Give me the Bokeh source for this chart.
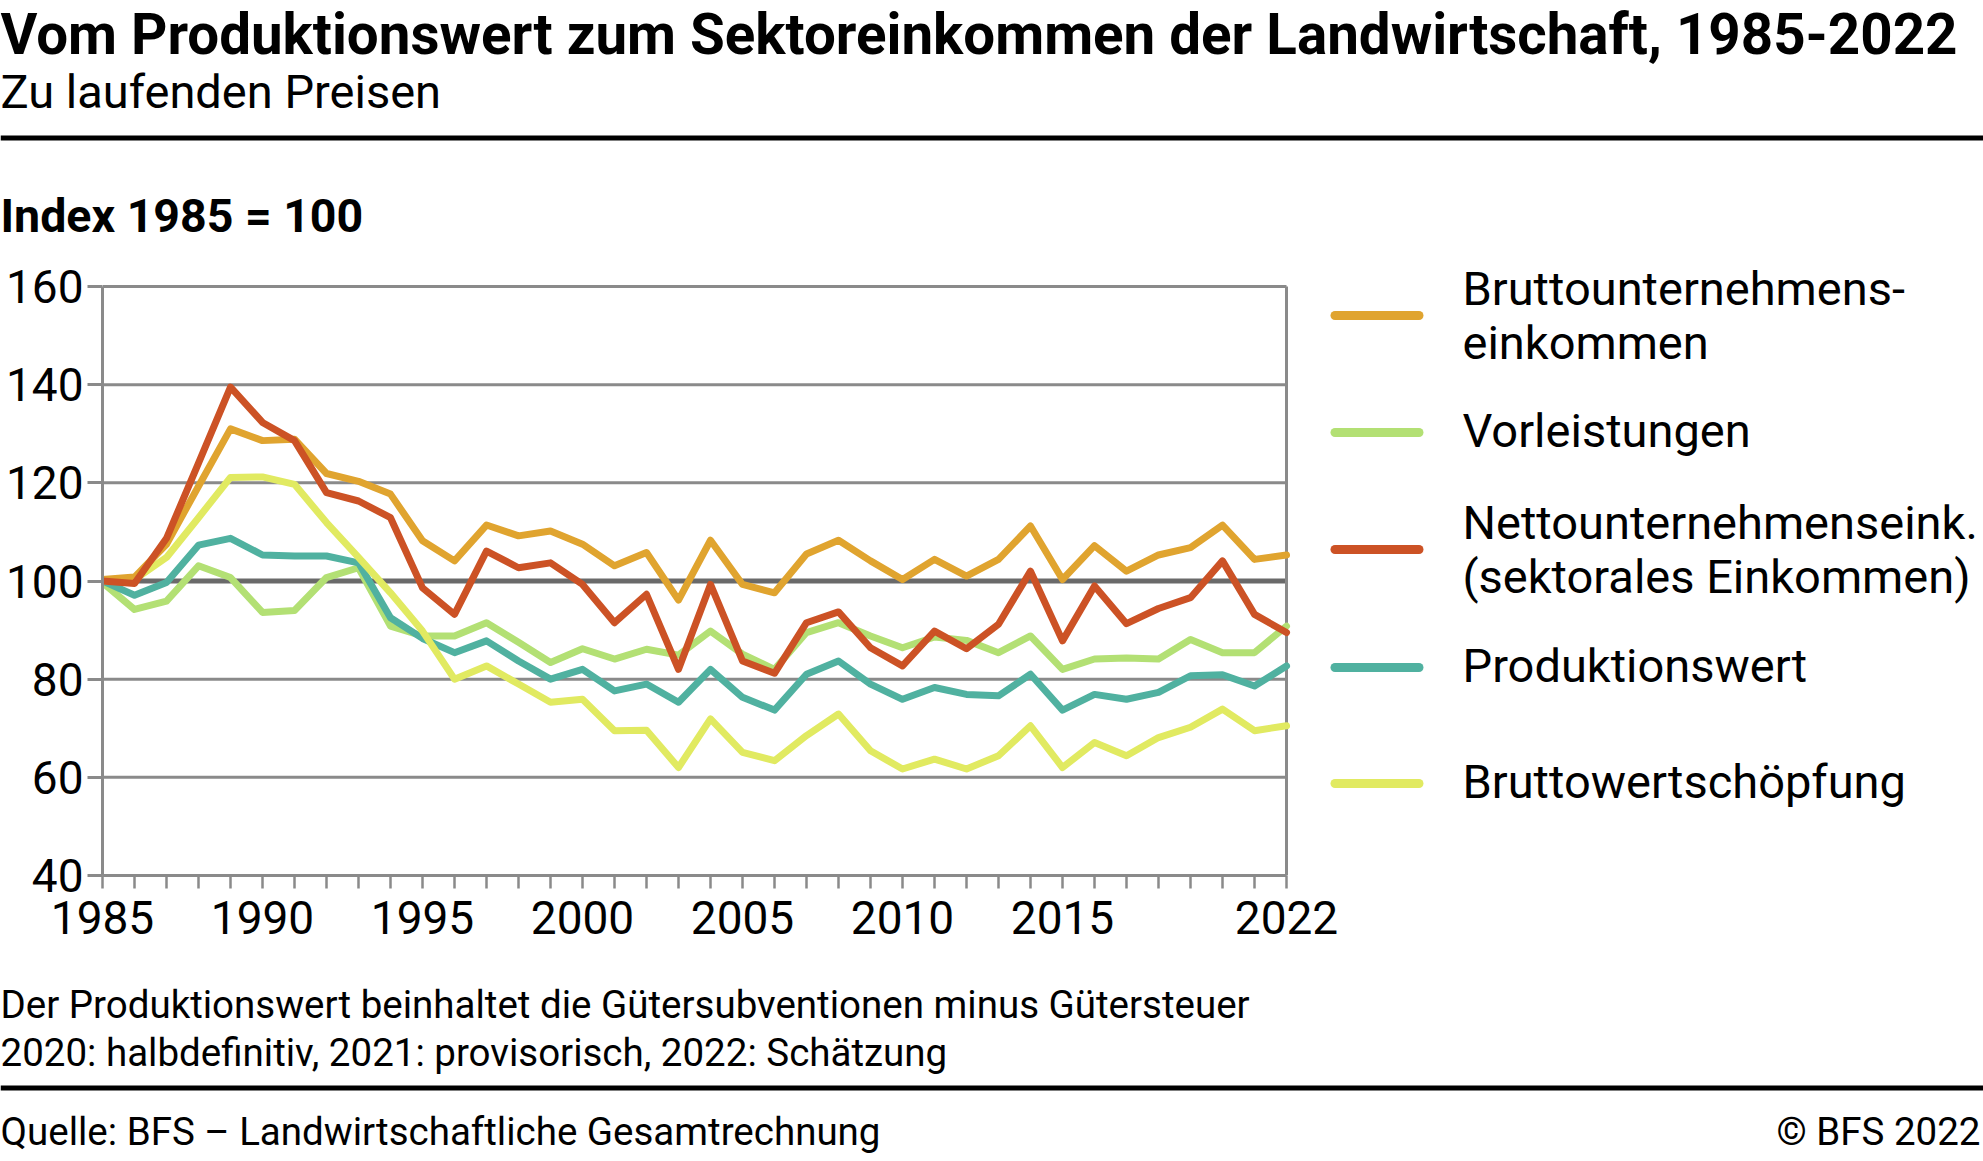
from bokeh.plotting import figure
from bokeh.models import FixedTicker, Range1d
from bokeh.layouts import column, row
from bokeh.core.properties import value
from bokeh.embed import file_html
from bokeh.resources import INLINE

years = list(range(1985, 2023))

brutto_unt = [100.3, 100.8, 107.5, 119.3, 131.0, 128.6, 128.9, 121.9, 120.3, 117.7,
              108.2, 104.1, 111.4, 109.2, 110.2, 107.5, 103.1, 105.8, 96.1, 108.3,
              99.3, 97.6, 105.5, 108.3, 104.1, 100.3, 104.4, 101.0, 104.4, 111.2,
              100.3, 107.2, 102.0, 105.3, 106.8, 111.4, 104.4, 105.3]
vorleistungen = [99.7, 94.2, 95.9, 103.1, 100.7, 93.6, 94.0, 100.7, 102.7, 90.8,
                 88.8, 88.8, 91.5, 87.5, 83.4, 86.2, 84.1, 86.1, 84.9, 89.8,
                 85.1, 82.0, 89.5, 91.5, 88.8, 86.4, 88.6, 87.9, 85.4, 88.8,
                 82.0, 84.1, 84.3, 84.1, 88.1, 85.4, 85.4, 90.8]
netto_unt = [100.0, 99.5, 108.7, 124.0, 139.5, 132.3, 128.6, 118.0, 116.3, 112.9,
             98.6, 93.2, 106.1, 102.7, 103.7, 99.3, 91.5, 97.3, 82.0, 99.3,
             83.7, 81.2, 91.5, 93.7, 86.4, 82.7, 89.8, 86.2, 91.2, 102.0,
             87.8, 99.0, 91.3, 94.4, 96.6, 104.1, 93.2, 89.5]
produktionswert = [100.0, 97.1, 99.7, 107.3, 108.7, 105.3, 105.1, 105.1, 103.7, 92.5,
                   88.3, 85.4, 87.8, 83.7, 80.0, 82.0, 77.6, 79.0, 75.3, 82.0,
                   76.3, 73.7, 81.0, 83.7, 79.0, 75.9, 78.3, 76.9, 76.6, 81.0,
                   73.7, 76.9, 75.9, 77.3, 80.7, 80.9, 78.6, 82.7]
bruttowert = [100.0, 100.3, 104.8, 112.9, 121.1, 121.2, 119.7, 111.9, 104.8, 97.6,
              89.8, 80.0, 82.7, 79.0, 75.3, 75.9, 69.5, 69.6, 62.0, 71.9,
              65.1, 63.4, 68.5, 72.9, 65.4, 61.7, 63.7, 61.7, 64.4, 70.5,
              62.0, 67.1, 64.4, 68.1, 70.2, 73.9, 69.5, 70.5]

y_ticks = [40, 60, 80, 100, 120, 140, 160]
x_label_years = [1985, 1990, 1995, 2000, 2005, 2010, 2015, 2022]
x_first, x_last = 1985, 2022
y_min, y_max = 40, 160
ref_line = 100

legend_lines = [["Bruttounternehmens-", "einkommen"],
                ["Vorleistungen"],
                ["Nettounternehmenseink.", "(sektorales Einkommen)"],
                ["Produktionswert"],
                ["Bruttowertschöpfung"]]

title_text = "Vom Produktionswert zum Sektoreinkommen der Landwirtschaft, 1985-2022"
subtitle_text = "Zu laufenden Preisen"
ylabel_text = "Index 1985 = 100"
note1 = "Der Produktionswert beinhaltet die Gütersubventionen minus Gütersteuer"
note2 = "2020: halbdefinitiv, 2021: provisorisch, 2022: Schätzung"
source_text = "Quelle: BFS \u2013 Landwirtschaftliche Gesamtrechnung"
copy_text = "\u00a9 BFS 2022"

C_ORANGE = "#E0A42F"
C_GREEN = "#B3E074"
C_RED = "#CC5225"
C_TEAL = "#50B1A0"
C_YELLOW = "#E1EA61"
GRID = "#8a8a8a"
FONT = "Roboto"
BASE = 0.36  # baseline correction (fraction of font size)

W = 1983
TOP_H = 250
MID_H = 710
BOT_H = 200
FL = 102            # frame left
PLOT_BOTTOM = 875   # page y of the x axis
PX_YEAR = 32.0
PX_UNIT = 589.0 / 120.0


def panel(w, h):
    f = figure(width=w, height=h, x_range=Range1d(0, w), y_range=Range1d(h, 0),
               min_border=0, output_backend="svg", toolbar_location=None,
               background_fill_color="white", border_fill_color="white")
    f.axis.visible = False
    f.grid.visible = False
    f.outline_line_color = None
    return f


def txt(f, x, y, t, size, bold=False, align="left", **kw):
    f.text(x=[x], y=[y - BASE * size], text=[t], text_font=value(FONT),
           text_font_size=value(f"{size}px"),
           text_font_style="bold" if bold else "normal", text_color="black",
           text_align=align, text_baseline="alphabetic", **kw)


# ---- top panel
top = panel(W, TOP_H)
txt(top, 0, 55, title_text, 56.5, bold=True)
txt(top, 0, 108, subtitle_text, 47)
top.quad(left=[0], right=[W], top=[135], bottom=[140], fill_color="black", line_color=None)
txt(top, 0, 232, ylabel_text, 46.5, bold=True)

# ---- middle: chart + legend in one frame
frame_w = W - FL
frame_h = PLOT_BOTTOM - TOP_H
p = figure(width=W, height=MID_H, frame_width=frame_w, frame_height=frame_h,
           min_border_left=FL, min_border_right=0, min_border_top=0,
           min_border_bottom=MID_H - frame_h,
           x_range=Range1d(x_first, x_first + frame_w / PX_YEAR),
           y_range=Range1d(y_min, y_min + frame_h / PX_UNIT),
           output_backend="svg", toolbar_location=None,
           background_fill_color="white", border_fill_color="white")
p.outline_line_color = None
p.grid.visible = False
p.extra_x_ranges = {"px": Range1d(FL, W)}
p.extra_y_ranges = {"py": Range1d(PLOT_BOTTOM, TOP_H)}

# grid lines, reference line and right border
p.segment(x0=[x_first] * len(y_ticks), x1=[x_last] * len(y_ticks), y0=y_ticks, y1=y_ticks,
          line_color=GRID, line_width=3, level="underlay")
p.segment(x0=[x_first], x1=[x_last], y0=[ref_line], y1=[ref_line],
          line_color="#6a6a6a", line_width=5, level="underlay")
p.segment(x0=[x_last], x1=[x_last], y0=[y_min], y1=[y_max],
          line_color=GRID, line_width=3, level="underlay")

p.xaxis.bounds = (x_first, x_last)
p.xaxis.ticker = FixedTicker(ticks=years)
p.xaxis.major_label_overrides = {y: (str(y) if y in x_label_years else "") for y in years}
p.xaxis.axis_line_color = GRID
p.xaxis.axis_line_width = 3
p.xaxis.major_tick_line_color = GRID
p.xaxis.major_tick_line_width = 2.5
p.xaxis.major_tick_in = 0
p.xaxis.major_tick_out = 13
p.xaxis.minor_tick_line_color = None
p.xaxis.major_label_standoff = 12
p.xaxis.major_label_text_font = FONT
p.xaxis.major_label_text_font_size = "46px"
p.xaxis.major_label_text_color = "black"

p.yaxis.bounds = (y_min, y_max)
p.yaxis.ticker = FixedTicker(ticks=y_ticks)
p.yaxis.axis_line_color = GRID
p.yaxis.axis_line_width = 3
p.yaxis.major_tick_line_color = GRID
p.yaxis.major_tick_line_width = 3
p.yaxis.major_tick_in = 0
p.yaxis.major_tick_out = 15
p.yaxis.minor_tick_line_color = None
p.yaxis.major_label_standoff = 4
p.yaxis.major_label_text_font = FONT
p.yaxis.major_label_text_font_size = "46px"
p.yaxis.major_label_text_color = "black"

lw = 7
series = [(vorleistungen, C_GREEN), (produktionswert, C_TEAL), (bruttowert, C_YELLOW),
          (brutto_unt, C_ORANGE), (netto_unt, C_RED)]
for vals, col in series:
    p.line(years, vals, line_color=col, line_width=lw, line_join="round", line_cap="round")

# legend (page pixel coordinates through extra ranges)
leg_colors = [C_ORANGE, C_GREEN, C_RED, C_TEAL, C_YELLOW]
sw_y = [315, 432, 549, 667, 783]
text_y = [[305, 359], [446.7], [539, 593], [681.7], [797.7]]
p.segment(x0=[1334.5] * 5, x1=[1418.5] * 5, y0=sw_y, y1=sw_y, line_color=leg_colors,
          line_width=9, line_cap="round", x_range_name="px", y_range_name="py")
for lines, ys in zip(legend_lines, text_y):
    for t, yy in zip(lines, ys):
        txt(p, 1462, yy, t, 47, x_range_name="px", y_range_name="py")

# ---- bottom panel
bot = panel(W, BOT_H)
txt(bot, 0, 58, note1, 38.5)
txt(bot, 0, 106, note2, 38.5)
bot.quad(left=[0], right=[W], top=[125], bottom=[130], fill_color="black", line_color=None)
txt(bot, 0, 185, source_text, 38.5)
txt(bot, 1980, 185, copy_text, 38.5, align="right")

layout = column(top, row(p), bot)
open("out.html", "w").write(file_html(layout, INLINE))
